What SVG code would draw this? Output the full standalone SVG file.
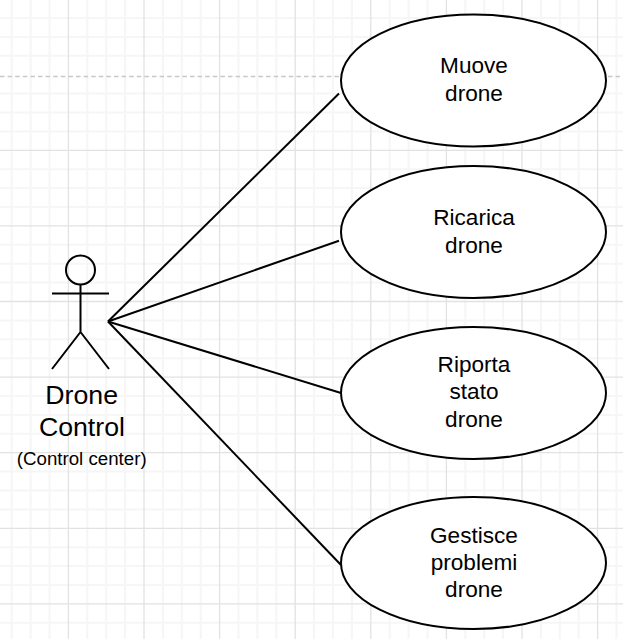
<svg xmlns="http://www.w3.org/2000/svg" width="623" height="639" viewBox="0 0 623 639">
<style>
.shape{fill:#fff;stroke:#000;stroke-width:2}
.line{fill:none;stroke:#000;stroke-width:2}
.minor{fill:none;stroke:#f6f6f6;stroke-width:2}
.major{fill:none;stroke:#e2e2e2;stroke-width:1.3}
text{font-family:"Liberation Sans",Arial,sans-serif;fill:#000;text-anchor:middle}
.t{font-size:22.6px}
.a{font-size:26.7px}
.s{font-size:18.7px}
</style>
<rect width="623" height="639" fill="#fff"/>
<path class="minor" d="M11.700 0V639M30.600 0V639M49.500 0V639M87.300 0V639M106.200 0V639M125.100 0V639M162.900 0V639M181.800 0V639M200.700 0V639M238.500 0V639M257.400 0V639M276.300 0V639M314.100 0V639M333 0V639M351.900 0V639M389.700 0V639M408.600 0V639M427.500 0V639M465.300 0V639M484.200 0V639M503.100 0V639M540.900 0V639M559.800 0V639M578.700 0V639M616.500 0V639M0 18H623M0 36.900H623M0 55.800H623M0 93.600H623M0 112.500H623M0 131.400H623M0 169.200H623M0 188.100H623M0 207H623M0 244.800H623M0 263.700H623M0 282.600H623M0 320.400H623M0 339.300H623M0 358.200H623M0 396H623M0 414.900H623M0 433.800H623M0 471.600H623M0 490.500H623M0 509.400H623M0 547.200H623M0 566.100H623M0 585H623M0 622.800H623"/>
<path class="major" d="M68.400 0V639M144 0V639M219.600 0V639M295.200 0V639M370.800 0V639M446.400 0V639M522 0V639M597.600 0V639M0 150.300H623M0 225.900H623M0 301.500H623M0 377.100H623M0 452.700H623M0 528.300H623M0 603.900H623"/>
<path d="M0 76.500H623" fill="none" stroke="#c8c8c8" stroke-width="1.500" stroke-dasharray="4.500 3.100"/>
<g id="connectors">
<path class="line" d="M108 321.500L339 93.500"/>
<path class="line" d="M108 321.500L339 240.700"/>
<path class="line" d="M108 321.500L341 393"/>
<path class="line" d="M108 321.500L341 565"/>
</g>
<g id="actor">
<circle class="line" cx="80.500" cy="270" r="14.500"/>
<path class="line" d="M80.500 284.500V332M52 293.500H109M80.500 332L52 369M80.500 332L109 369"/>
<text class="a" x="81.700" y="404">Drone</text>
<text class="a" x="81.900" y="436">Control</text>
<text class="s" x="81.700" y="465">(Control center)</text>
</g>
<g id="uc1">
<ellipse class="shape" cx="473.500" cy="80.500" rx="132.500" ry="66"/>
<text class="t" x="474" y="73">Muove</text>
<text class="t" x="474" y="100.500">drone</text>
</g>
<g id="uc2">
<ellipse class="shape" cx="473.500" cy="232" rx="132.500" ry="66"/>
<text class="t" x="474" y="225">Ricarica</text>
<text class="t" x="474" y="252.500">drone</text>
</g>
<g id="uc3">
<ellipse class="shape" cx="473.500" cy="393" rx="132.500" ry="66"/>
<text class="t" x="474" y="371.500">Riporta</text>
<text class="t" x="474" y="398.500">stato</text>
<text class="t" x="474" y="426.500">drone</text>
</g>
<g id="uc4">
<ellipse class="shape" cx="473.500" cy="563" rx="132.500" ry="66"/>
<text class="t" x="474" y="542.500">Gestisce</text>
<text class="t" x="474" y="569.500">problemi</text>
<text class="t" x="474" y="597">drone</text>
</g>
</svg>
